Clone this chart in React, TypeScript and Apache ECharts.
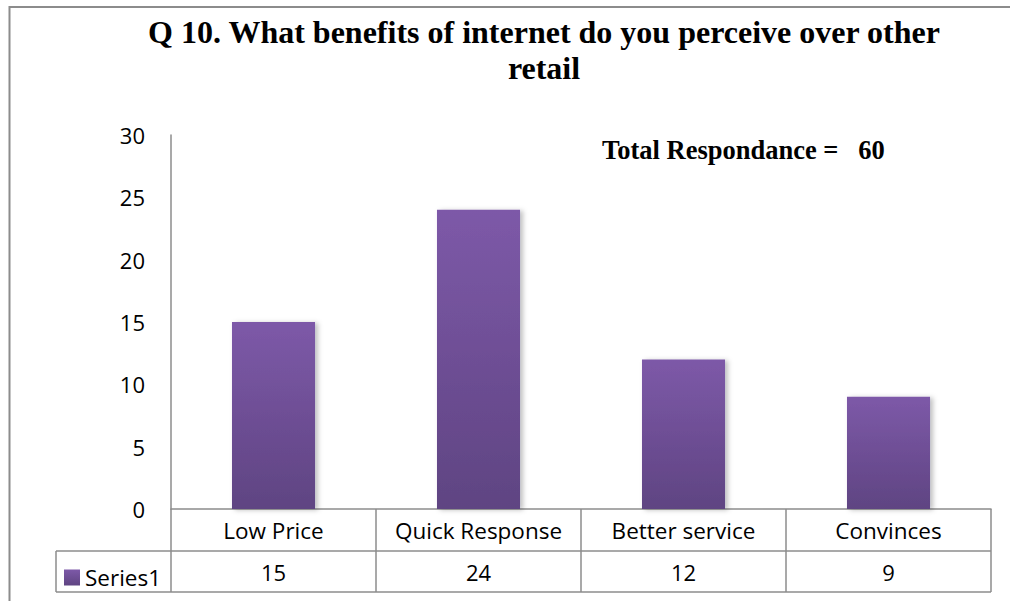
import React, { useEffect, useRef } from "react";
import * as echarts from "echarts";

const title = "Q 10. What benefits of internet do you perceive over other\nretail";
const note = "Total Respondance =   60";
const categories = ["Low Price", "Quick Response", "Better service", "Convinces"];
const seriesName = "Series1";
const values = [15, 24, 12, 9];
const yTicks = { min: 0, max: 30, interval: 5 };

const LABEL_FONT = "'Open Sans', 'Noto Sans', sans-serif";
const SERIF = "'Liberation Serif', 'DejaVu Serif', serif";
const GRID = "#8c8c8c";

export default function App() {
  const ref = useRef<HTMLDivElement>(null);
  useEffect(() => {
    if (!ref.current) return;
    const chart = echarts.init(ref.current, undefined, { renderer: "svg" });
    const gridLeft = 171;
    const gridTop = 135;
    const gridRight = 991;
    const gridBottom = 509;
    chart.setOption({
      animation: false,
      backgroundColor: "#ffffff",
      title: {
        text: title,
        left: 539,
        top: 9,
        textAlign: "center",
        textStyle: {
          fontFamily: SERIF,
          fontWeight: "bold",
          fontSize: 32,
          lineHeight: 36,
          color: "#000",
        },
      },
      legend: {
        show: true,
        left: 59,
        top: 561,
        icon: "rect",
        itemWidth: 16,
        itemHeight: 16,
        itemGap: 6,
        textStyle: { fontFamily: LABEL_FONT, fontSize: 22.5, color: "#000" },
        data: [seriesName],
      },
      grid: {
        left: gridLeft,
        top: gridTop,
        width: gridRight - gridLeft,
        height: gridBottom - gridTop,
        containLabel: false,
      },
      xAxis: {
        type: "category",
        data: categories,
        axisLine: { show: true, lineStyle: { color: GRID, width: 1.5 } },
        axisTick: {
          show: true,
          length: 83,
          lineStyle: { color: GRID, width: 1.5 },
        },
        axisLabel: {
          margin: 0,
          interval: 0,
          formatter: (v: string, i: number) => `{a|${v}}\n{b|${values[i]}}`,
          rich: {
            a: { fontFamily: LABEL_FONT, fontSize: 22.5, color: "#000", lineHeight: 42, height: 42 },
            b: { fontFamily: LABEL_FONT, fontSize: 22, color: "#000", lineHeight: 42, height: 42 },
          },
        },
        splitLine: { show: false },
      },
      yAxis: {
        type: "value",
        min: yTicks.min,
        max: yTicks.max,
        interval: yTicks.interval,
        axisLine: { show: true, lineStyle: { color: GRID, width: 1.5 } },
        axisTick: { show: false },
        splitLine: { show: false },
        axisLabel: {
          margin: 26,
          fontFamily: LABEL_FONT,
          fontSize: 22,
          color: "#000",
        },
      },
      series: [
        {
          name: seriesName,
          type: "bar",
          data: values,
          barWidth: "40.5%",
          itemStyle: {
            color: new echarts.graphic.LinearGradient(0, 0, 0, 1, [
              { offset: 0, color: "#7d59a8" },
              { offset: 1, color: "#5f4482" },
            ]),
            shadowColor: "rgba(0,0,0,0.25)",
            shadowBlur: 5,
            shadowOffsetX: 3,
            shadowOffsetY: 1,
          },
        },
      ],
      graphic: [
        {
          type: "rect",
          shape: { x: 9.5, y: 7, width: 1100, height: 700 },
          style: { fill: "none", stroke: GRID, lineWidth: 2 },
          silent: true,
          z: 0,
        },
        {
          type: "line",
          shape: { x1: 56, y1: 551, x2: gridRight, y2: 551 },
          style: { stroke: GRID, lineWidth: 1.5 },
          silent: true,
        },
        {
          type: "line",
          shape: { x1: 56, y1: 592, x2: gridRight, y2: 592 },
          style: { stroke: GRID, lineWidth: 1.5 },
          silent: true,
        },
        {
          type: "line",
          shape: { x1: 56, y1: 551, x2: 56, y2: 592 },
          style: { stroke: GRID, lineWidth: 1.5 },
          silent: true,
        },
        {
          type: "text",
          left: 602,
          top: 136,
          style: {
            text: note,
            font: `bold 26.5px ${SERIF}`,
            fill: "#000",
          },
          silent: true,
        },
      ],
    });
    return () => chart.dispose();
  }, []);
  return (
    <div
      ref={ref}
      style={{ position: "fixed", left: 0, top: 0, width: 1010, height: 601, background: "#fff" }}
    />
  );
}
